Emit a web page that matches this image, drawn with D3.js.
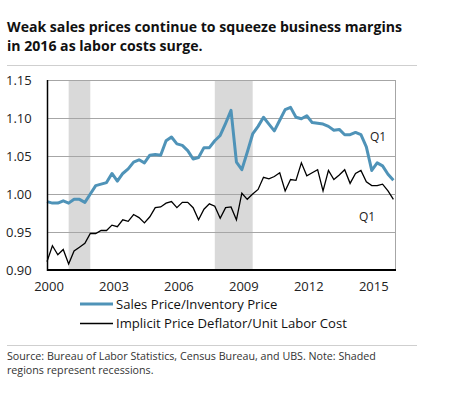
<!DOCTYPE html>
<html>
<head>
<meta charset="utf-8">
<script src="https://cdn.jsdelivr.net/npm/d3@7"></script>
<style>
  body { margin: 0; background: #fff; }
  svg { display: block; }
</style>
</head>
<body>
<div id="chart"></div>
<script>
// quarterly, 2000 Q1 .. 2016 Q1
const salesRatio = [
  0.990, 0.988, 0.988, 0.991, 0.988, 0.993, 0.993, 0.989,
  1.000, 1.011, 1.013, 1.015, 1.027, 1.017, 1.027, 1.033,
  1.042, 1.045, 1.041, 1.051, 1.052, 1.051, 1.070, 1.075,
  1.066, 1.064, 1.057, 1.046, 1.048, 1.061, 1.061, 1.070,
  1.077, 1.093, 1.110, 1.042, 1.032, 1.055, 1.079, 1.089,
  1.101, 1.092, 1.083, 1.097, 1.111, 1.114, 1.101, 1.099,
  1.103, 1.094, 1.093, 1.092, 1.089, 1.084, 1.085, 1.078,
  1.078, 1.081, 1.078, 1.062, 1.031, 1.041, 1.037, 1.026,
  1.018
]
const deflatorRatio = [
  0.911, 0.932, 0.920, 0.927, 0.908, 0.925, 0.930, 0.935,
  0.948, 0.948, 0.952, 0.952, 0.959, 0.957, 0.966, 0.964,
  0.973, 0.969, 0.962, 0.970, 0.982, 0.983, 0.988, 0.990,
  0.982, 0.989, 0.989, 0.982, 0.966, 0.980, 0.987, 0.984,
  0.968, 0.982, 0.983, 0.966, 1.001, 0.993, 1.000, 1.006,
  1.022, 1.020, 1.023, 1.028, 1.004, 1.019, 1.018, 1.041,
  1.024, 1.028, 1.032, 1.004, 1.031, 1.019, 1.025, 1.032,
  1.014, 1.027, 1.031, 1.016, 1.011, 1.011, 1.013, 1.004,
  0.993
]
const recessions = [[2001.0, 2002.0], [2007.75, 2009.5]]
const yTicks = [0.90, 0.95, 1.00, 1.05, 1.10, 1.15]
const xTicks = [2000, 2003, 2006, 2009, 2012, 2015]
const seriesNames = ["Sales Price/Inventory Price", "Implicit Price Deflator/Unit Labor Cost"]

const width = 475, height = 398
const font = "'Open Sans', sans-serif"
margin = ({ top: 80, right: 80, bottom: 128, left: 47 })

const dates = salesRatio.map((d, i) => 2000 + i / 4)

x = d3.scaleLinear()
   .domain([2000, 2016])
   .range([margin.left, 393.4])

y = d3.scaleLinear()
   .domain([0.90, 1.15])
   .range([270, 80])

const svg = d3.create("svg")
   .attr("width", width)
   .attr("height", height)
   .attr("viewBox", [0, 0, width, height])
   .style("font-family", font)

// title
svg.append("g")
   .attr("fill", "#111")
   .attr("font-weight", "bold")
   .attr("font-size", 14.1)
   .selectAll("text")
   .data(["Weak sales prices continue to squeeze business margins", "in 2016 as labor costs surge."])
   .join("text")
   .attr("x", 7)
   .attr("y", (d, i) => 32 + i * 19)
   .text(d => d)

svg.append("line")
   .attr("x1", 7).attr("x2", 417)
   .attr("y1", 65.5).attr("y2", 65.5)
   .attr("stroke", "#cfcfcf")

svg.append("line")
   .attr("x1", 7).attr("x2", 417)
   .attr("y1", 345.5).attr("y2", 345.5)
   .attr("stroke", "#cfcfcf")

// recession shading
svg.append("g")
   .attr("fill", "#d9d9d9")
   .selectAll("rect")
   .data(recessions)
   .join("rect")
   .attr("x", d => x(d[0]))
   .attr("width", d => x(d[1]) - x(d[0]))
   .attr("y", y(1.15))
   .attr("height", y(0.90) - y(1.15))

// gridlines
svg.append("g")
   .attr("stroke", "#a6a6a6")
   .selectAll("line")
   .data(yTicks.slice(1))
   .join("line")
   .attr("x1", margin.left)
   .attr("x2", 395)
   .attr("y1", d => Math.round(y(d)) + 0.5)
   .attr("y2", d => Math.round(y(d)) + 0.5)

// right frame
svg.append("line")
   .attr("x1", 395.5).attr("x2", 395.5)
   .attr("y1", y(1.15)).attr("y2", y(0.90))
   .attr("stroke", "#a6a6a6")

// y labels
svg.append("g")
   .attr("fill", "#222")
   .attr("font-size", 13)
   .selectAll("text")
   .data(yTicks)
   .join("text")
   .attr("x", 6)
   .attr("y", d => y(d))
   .attr("dy", "0.35em")
   .text(d => d3.format(".2f")(d))

// x labels
svg.append("g")
   .attr("fill", "#222")
   .attr("font-size", 13)
   .attr("text-anchor", "middle")
   .selectAll("text")
   .data(xTicks)
   .join("text")
   .attr("x", d => x(d) + 2)
   .attr("y", 291)
   .text(d => d)

const line = d3.line()
   .x((d, i) => x(dates[i]))
   .y(d => y(d))

svg.append("path")
   .datum(deflatorRatio)
   .attr("fill", "none")
   .attr("stroke", "#000")
   .attr("stroke-width", 1.3)
   .attr("stroke-linejoin", "miter")
   .attr("d", line)

svg.append("path")
   .datum(salesRatio)
   .attr("fill", "none")
   .attr("stroke", "#4f93b8")
   .attr("stroke-width", 3)
   .attr("stroke-linejoin", "round")
   .attr("d", line)

// axes lines
svg.append("line")
   .attr("x1", 47.5).attr("x2", 47.5)
   .attr("y1", y(1.15)).attr("y2", y(0.90) + 1)
   .attr("stroke", "#000")
   .attr("stroke-width", 1.5)

svg.append("line")
   .attr("x1", 47).attr("x2", 396)
   .attr("y1", 270).attr("y2", 270)
   .attr("stroke", "#000")
   .attr("stroke-width", 2)

// Q1 annotations
svg.append("g")
   .attr("fill", "#222")
   .attr("font-size", 12)
   .selectAll("text")
   .data([[370, 141], [359, 221]])
   .join("text")
   .attr("x", d => d[0])
   .attr("y", d => d[1])
   .text("Q1")

// legend
const legend = svg.append("g")
   .selectAll("g")
   .data(seriesNames)
   .join("g")
   .attr("transform", (d, i) => `translate(80,${304 + i * 19.5})`)

legend.append("line")
   .attr("x1", 0).attr("x2", 33)
   .attr("stroke", (d, i) => i == 0 ? "#4f93b8" : "#000")
   .attr("stroke-width", (d, i) => i == 0 ? 3 : 1.5)

legend.append("text")
   .attr("x", 36)
   .attr("dy", "0.35em")
   .attr("font-size", 13.1)
   .attr("fill", "#111")
   .text(d => d)

// source note
svg.append("g")
   .attr("fill", "#333")
   .attr("font-size", 10.7)
   .selectAll("text")
   .data(["Source:  Bureau of Labor Statistics, Census Bureau, and UBS. Note: Shaded", "regions represent recessions."])
   .join("text")
   .attr("x", 7)
   .attr("y", (d, i) => 360 + i * 13.5)
   .text(d => d)

d3.select("#chart").node().append(svg.node())
</script>
</body>
</html>
